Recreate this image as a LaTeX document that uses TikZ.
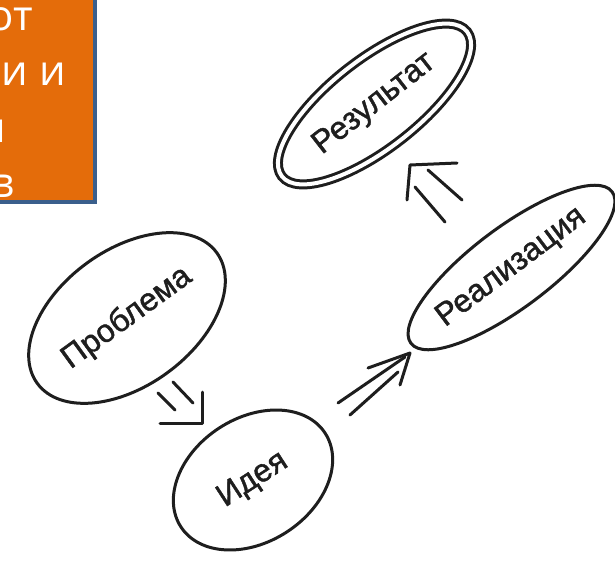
\documentclass[tikz,border=0pt]{standalone}
\usepackage{fontspec}
\setmainfont{Liberation Sans}
\newfontfamily\inkfont{Liberation Sans}[FakeBold=1.3]
\newfontfamily\boxfont{Open Sans}
\usetikzlibrary{shapes.geometric,calc}
\definecolor{ink}{HTML}{1E1E1E}
\definecolor{boxorange}{HTML}{E46C0A}
\definecolor{boxblue}{HTML}{3A5F8C}
\begin{document}
\begin{tikzpicture}[x=1pt,y=-1pt,
  ell/.style={draw=ink, line width=3pt, ellipse, inner sep=0pt, font=\inkfont\fontsize{32}{36}\selectfont, text=ink},
  stroke/.style={draw=ink, line width=3pt, line cap=round, line join=round},
  boxtxt/.style={text=white, font=\boxfont\fontsize{42}{48}\selectfont, anchor=base east, inner sep=0pt}]
\useasboundingbox (0,0) rectangle (615,562);
\clip (0,0) rectangle (615,562);
\fill[white] (0,0) rectangle (615,562);
% orange box (cut off at the left and top)
\draw[fill=boxorange, draw=boxblue, line width=4pt] (-20,-20) rectangle (94.5,202);
\node[boxtxt] (l1) at (33,30) {от};
\node[boxtxt] (l2) at (66,85) {и и};
\node[boxtxt] (l3) at (6.5,142) {и};
\node[boxtxt] (l4) at (15,197) {в};
% ellipses
\node[ell, double=white, double distance=4pt, rotate=38, minimum width=235pt, minimum height=89pt] (res) at (374.5,104) {Результат};
\node[ell, rotate=36, minimum width=222pt, minimum height=136pt] (prob) at (127,318) {Проблема};
\node[ell, rotate=37, minimum width=232pt, minimum height=80pt] (real) at (511.5,267.5) {Реализация};
\node[ell, rotate=33, minimum width=172pt, minimum height=124pt] (idea) at (253,480) {Идея};
% arrow 1: problem -> idea
\coordinate (a1t) at (202,423); \coordinate (a1l) at (160,423); \coordinate (a1r) at (202,392);
\coordinate (a1s1) at (158,393); \coordinate (a1e1) at (175,410);
\coordinate (a1s2) at (173,382); \coordinate (a1e2) at (193,403);
\draw[stroke] (a1l) -- (a1t) -- (a1r);
\draw[stroke] (a1s1) -- (a1e1);
\draw[stroke] (a1s2) -- (a1e2);
% arrow 2: idea -> realisation
\coordinate (a2t) at (410,353); \coordinate (a2l) at (368,368); \coordinate (a2r) at (400,385);
\coordinate (a2s1) at (338,403); \coordinate (a2e1) at (405,357);
\coordinate (a2s2) at (350,415); \coordinate (a2e2) at (398,372);
\draw[stroke] (a2l) -- (a2t) -- (a2r);
\draw[stroke] (a2s1) -- (a2e1);
\draw[stroke] (a2s2) -- (a2e2);
% arrow 3: realisation -> result
\coordinate (a3t) at (410,165); \coordinate (a3l) at (457,163); \coordinate (a3r) at (407,200);
\coordinate (a3s1) at (445,222); \coordinate (a3e1) at (415,187);
\coordinate (a3s2) at (462,200); \coordinate (a3e2) at (428,170);
\draw[stroke] (a3l) -- (a3t) -- (a3r);
\draw[stroke] (a3s1) -- (a3e1);
\draw[stroke] (a3s2) -- (a3e2);
\end{tikzpicture}
\end{document}
